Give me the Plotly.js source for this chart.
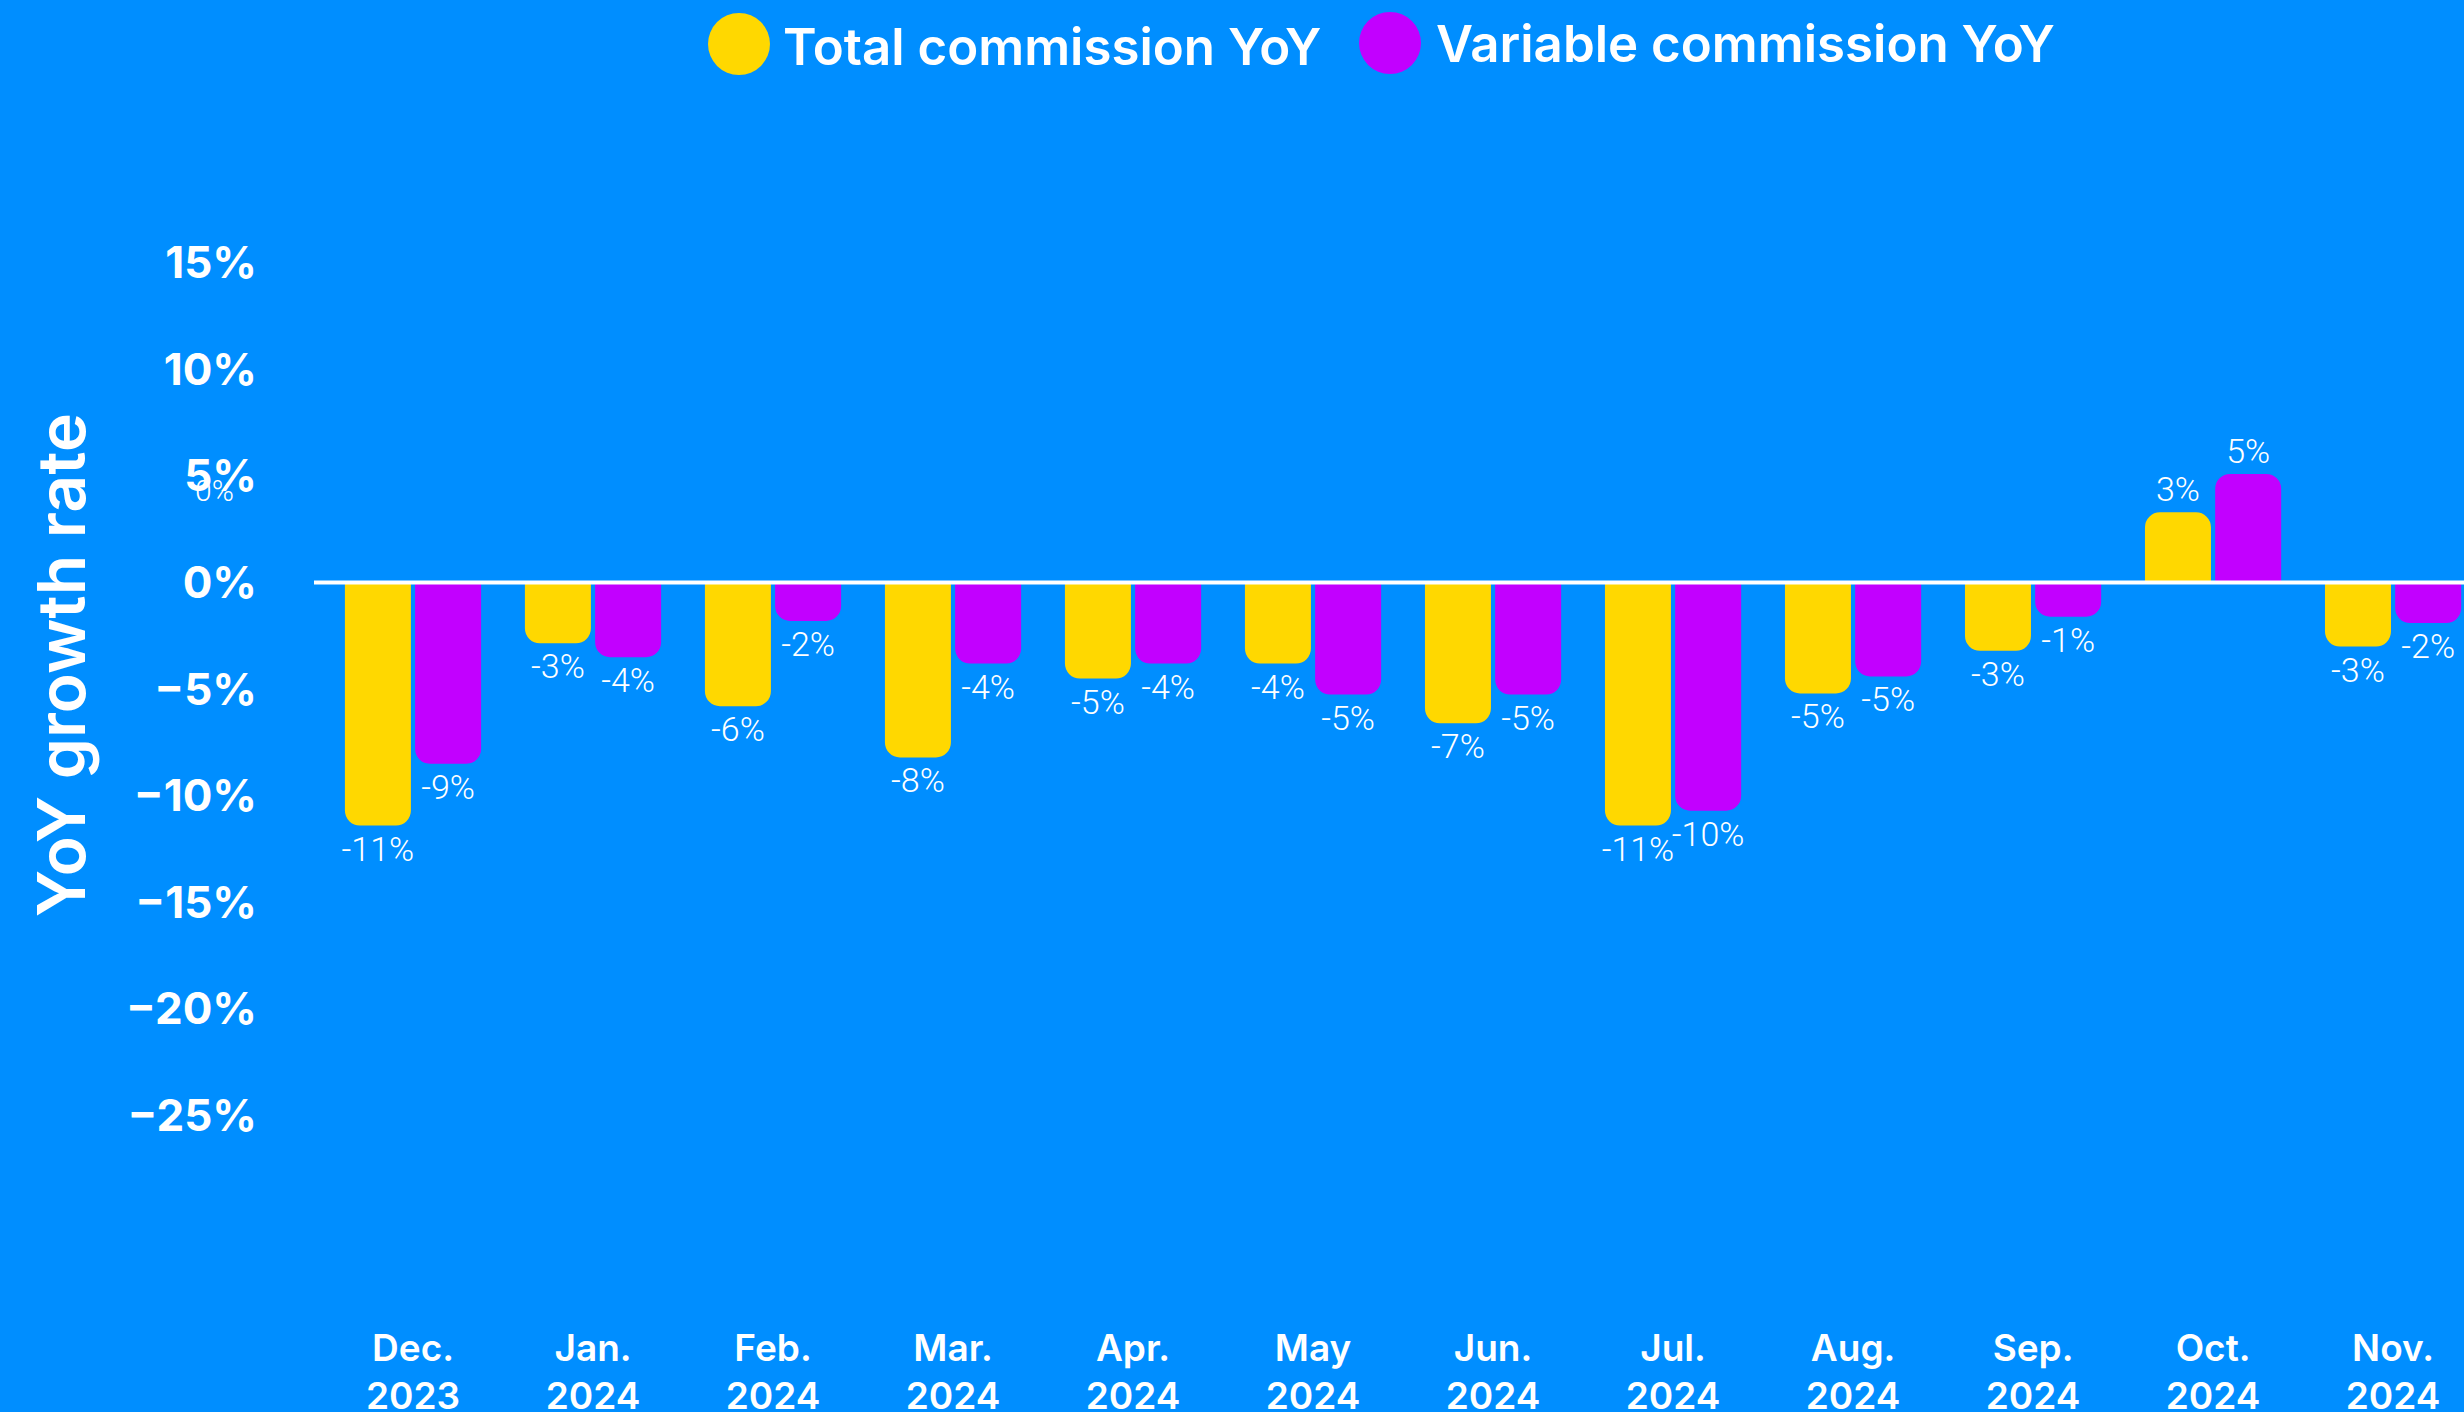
<!DOCTYPE html>
<html>
<head>
<meta charset="utf-8">
<script src="https://cdn.plot.ly/plotly-3.0.1.min.js"></script>
<style>
  html, body { margin: 0; padding: 0; background: #008EFF; }
  #chart { width: 2464px; height: 1412px; }
</style>
</head>
<body>
<div id="chart"></div>
<script>
// ---- Data ----
const categories = ['Dec. 2023', 'Jan. 2024', 'Feb. 2024', 'Mar. 2024', 'Apr. 2024', 'May 2024',
                    'Jun. 2024', 'Jul. 2024', 'Aug. 2024', 'Sep. 2024', 'Oct. 2024', 'Nov. 2024'];
const tickLabels = ['Dec.<br>2023', 'Jan.<br>2024', 'Feb.<br>2024', 'Mar.<br>2024', 'Apr.<br>2024', 'May<br>2024',
                    'Jun.<br>2024', 'Jul.<br>2024', 'Aug.<br>2024', 'Sep.<br>2024', 'Oct.<br>2024', 'Nov.<br>2024'];
const totalYoY    = [-11.4, -2.85, -5.8, -8.2, -4.5, -3.8, -6.6, -11.4, -5.2, -3.2, 3.3, -3.0];
const variableYoY = [-8.5, -3.5, -1.8, -3.8, -3.8, -5.25, -5.25, -10.7, -4.4, -1.6, 5.1, -1.9];
const totalLabels    = ['-11%', '-3%', '-6%', '-8%', '-5%', '-4%', '-7%', '-11%', '-5%', '-3%', '3%', '-3%'];
const variableLabels = ['-9%', '-4%', '-2%', '-4%', '-4%', '-5%', '-5%', '-10%', '-5%', '-1%', '5%', '-2%'];
const yTickValues = [-25, -20, -15, -10, -5, 0, 5, 10, 15];
const yTickText   = ['\u221225%', '\u221220%', '\u221215%', '\u221210%', '\u22125%', '0%', '5%', '10%', '15%'];
const seriesNames = ['Total commission YoY', 'Variable commission YoY'];

// ---- Styles ----
const BG = '#008EFF';
const YELLOW = '#FFD800';
const PURPLE = '#C200FF';
const BOLD = 'Inter, "Open Sans", "DejaVu Sans", sans-serif';
const LIGHT = 'Roboto, Inter, "DejaVu Sans", sans-serif';

const labelFont = { family: LIGHT, size: 34, color: '#FFFFFF', weight: 300 };

const traces = [
  {
    type: 'bar', name: seriesNames[0], x: categories, y: totalYoY,
    text: totalLabels, texttemplate: '%{text}', textposition: 'outside',
    textfont: labelFont, outsidetextfont: labelFont, constraintext: 'none', cliponaxis: false,
    marker: { color: YELLOW, line: { width: 0 } }, showlegend: false
  },
  {
    type: 'bar', name: seriesNames[1], x: categories, y: variableYoY,
    text: variableLabels, texttemplate: '%{text}', textposition: 'outside',
    textfont: labelFont, outsidetextfont: labelFont, constraintext: 'none', cliponaxis: false,
    marker: { color: PURPLE, line: { width: 0 } }, showlegend: false
  }
];

// plot box: left 314, right 0, top 167, bottom 1163 -> height 996
const plotL = 314, plotW = 2150, plotT = 167, plotH = 996;
const px = v => (v - plotL) / plotW;
const py = v => (plotT + plotH - v) / plotH;

const layout = {
  width: 2464, height: 1412,
  paper_bgcolor: BG, plot_bgcolor: BG,
  margin: { l: 314, r: 0, t: 167, b: 249, pad: 0 },
  barmode: 'group', bargap: 0.22, bargroupgap: 0.06, barcornerradius: 15,
  showlegend: false,
  xaxis: {
    type: 'category', categoryorder: 'array', categoryarray: categories,
    tickvals: categories, ticktext: tickLabels,
    range: [-0.55, 11.394],
    showgrid: false, zeroline: false, showline: false, ticks: '',
    ticklabelstandoff: 160,
    tickfont: { family: BOLD, size: 37, color: '#FFFFFF', weight: 600 },
    fixedrange: true
  },
  yaxis: {
    range: [-27.23, 19.5],
    tickmode: 'array', tickvals: yTickValues, ticktext: yTickText,
    showgrid: false, zeroline: false, showline: false, ticks: '',
    ticklabelstandoff: 56,
    tickfont: { family: BOLD, size: 44, color: '#FFFFFF', weight: 700 },
    title: { text: 'YoY growth rate', standoff: 18,
             font: { family: BOLD, size: 66, color: '#FFFFFF', weight: 600 } },
    fixedrange: true
  },
  shapes: [
    { type: 'line', xref: 'paper', yref: 'y', x0: 0, x1: 1, y0: 0, y1: 0,
      line: { color: '#FFFFFF', width: 4 }, layer: 'above' },
    { type: 'circle', xref: 'paper', yref: 'paper', xsizemode: 'pixel', ysizemode: 'pixel',
      xanchor: px(739), yanchor: py(44), x0: -31, x1: 31, y0: -31, y1: 31,
      fillcolor: YELLOW, line: { width: 0 } },
    { type: 'circle', xref: 'paper', yref: 'paper', xsizemode: 'pixel', ysizemode: 'pixel',
      xanchor: px(1390), yanchor: py(43), x0: -31, x1: 31, y0: -31, y1: 31,
      fillcolor: PURPLE, line: { width: 0 } }
  ],
  annotations: [
    { xref: 'paper', yref: 'paper', x: px(781), y: py(46), xanchor: 'left', yanchor: 'middle',
      text: seriesNames[0], showarrow: false,
      font: { family: BOLD, size: 51, color: '#FFFFFF', weight: 600 } },
    { xref: 'paper', yref: 'paper', x: px(1434), y: py(43), xanchor: 'left', yanchor: 'middle',
      text: seriesNames[1], showarrow: false,
      font: { family: BOLD, size: 51, color: '#FFFFFF', weight: 600 } },
    { xref: 'paper', yref: 'y', x: px(214), y: 4.3, xanchor: 'center', yanchor: 'middle',
      text: '0%', showarrow: false,
      font: { family: LIGHT, size: 30, color: '#FFFFFF', weight: 300 } }
  ]
};

Plotly.newPlot('chart', traces, layout, { displayModeBar: false, staticPlot: true });
</script>
</body>
</html>
